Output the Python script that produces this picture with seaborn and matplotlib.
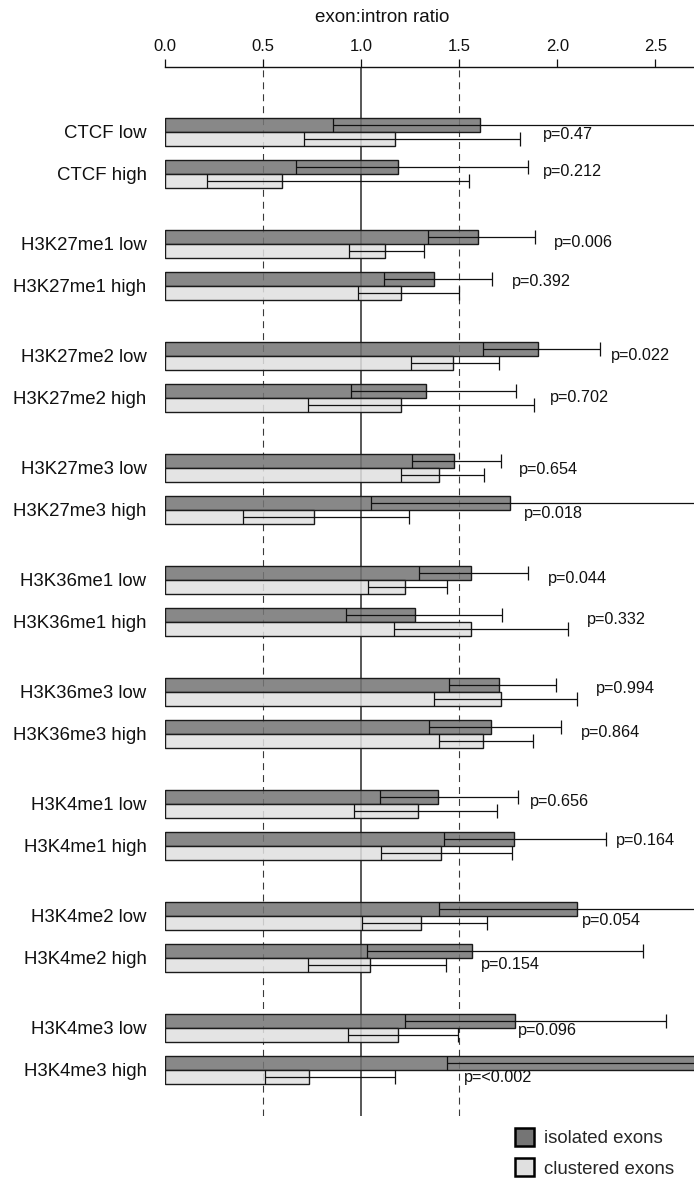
import matplotlib
matplotlib.use("Agg")
import matplotlib.pyplot as plt
from matplotlib.colors import to_rgba
from matplotlib.patches import Patch
from matplotlib.transforms import offset_copy
import numpy as np
import pandas as pd
import seaborn as sns

# ---- data -------------------------------------------------------------
marks = ["CTCF", "H3K27me1", "H3K27me2", "H3K27me3", "H3K36me1",
         "H3K36me3", "H3K4me1", "H3K4me2", "H3K4me3"]
levels = ["low", "high"]
row_labels = [f"{m} {lv}" for m in marks for lv in levels]

iso_ratio = [1.607, 1.190, 1.596, 1.371, 1.903, 1.330, 1.472, 1.761, 1.562,
             1.278, 1.704, 1.664, 1.395, 1.779, 2.099, 1.567, 1.785, 2.85]
iso_lower = [0.859, 0.667, 1.344, 1.120, 1.623, 0.949, 1.258, 1.053, 1.298,
             0.922, 1.447, 1.346, 1.096, 1.422, 1.400, 1.032, 1.224, 1.438]
iso_upper = [2.95, 1.849, 1.889, 1.670, 2.220, 1.788, 1.713, 2.90, 1.851,
             1.720, 1.995, 2.020, 1.799, 2.250, 2.90, 2.439, 2.556, 3.60]

clu_ratio = [1.174, 0.597, 1.123, 1.206, 1.468, 1.202, 1.400, 0.760, 1.226,
             1.562, 1.716, 1.623, 1.292, 1.407, 1.307, 1.048, 1.188, 0.737]
clu_lower = [0.708, 0.214, 0.938, 0.983, 1.253, 0.728, 1.202, 0.399, 1.035,
             1.170, 1.371, 1.398, 0.967, 1.100, 1.008, 0.728, 0.933, 0.509]
clu_upper = [1.812, 1.551, 1.321, 1.501, 1.702, 1.880, 1.628, 1.244, 1.438,
             2.054, 2.101, 1.876, 1.691, 1.772, 1.643, 1.436, 1.497, 1.174]

p_values = ["p=0.47", "p=0.212", "p=0.006", "p=0.392", "p=0.022", "p=0.702",
            "p=0.654", "p=0.018", "p=0.044", "p=0.332", "p=0.994", "p=0.864",
            "p=0.656", "p=0.164", "p=0.054", "p=0.154", "p=0.096", "p=<0.002"]

series = ["isolated exons", "clustered exons"]

# ---- layout of the annotations -----------------------------------------
p_x = [1.928, 1.928, 1.984, 1.770, 2.274, 1.963, 1.805, 1.831, 1.953,
       2.152, 2.198, 2.121, 1.861, 2.300, 2.126, 1.612, 1.800, 1.525]
p_dy = [2, -2.5, -1.5, -4.5, -0.5, -0.5, 1.5, 3.5, -1.5,
        -2.5, -3.5, -1.5, -2.5, -5.5, 4.5, 6.5, 2.5, 7.5]

dark = "#757575"
light = "#e0e0e0"
fill_alpha = 0.86

sns.set_style("white")
plt.rcParams["font.family"] = ["Liberation Sans", "DejaVu Sans"]
plt.rcParams["lines.scale_dashes"] = False

# rows of a pair sit one unit apart, marks are separated by a wider gap
group_step = 112 / 42
pos = [g * group_step + w for g in range(len(marks)) for w in range(len(levels))]

df = pd.DataFrame({
    "pos": pos + pos,
    "ratio": iso_ratio + clu_ratio,
    "exons": [series[0]] * len(pos) + [series[1]] * len(pos),
})

fig = plt.figure(figsize=(6.94, 11.80), dpi=100)
ax = fig.add_axes([164.6 / 694, 1 - 1116 / 1180, 1 - 164.6 / 694, (1116 - 67) / 1180])

# reference lines
ax.axvline(1.0, color="#2a2a2a", lw=1.1, zorder=0)
for xv in (0.5, 1.5):
    ax.axvline(xv, color="#3a3a3a", lw=0.8, dashes=(5, 3.6), zorder=0)

sns.barplot(data=df, x="ratio", y="pos", hue="exons", orient="y",
            native_scale=True, width=0.69, palette=[dark, light],
            edgecolor="#1a1a1a", linewidth=1.0, errorbar=None,
            legend=False, ax=ax, zorder=2)

for cont, col in zip(ax.containers, [dark, light]):
    for bar in cont:
        bar.set_facecolor(to_rgba(col, fill_alpha))

# confidence intervals: line from lower to upper bound, ticks at both ends
for cont, lo, hi in zip(ax.containers, [iso_lower, clu_lower], [iso_upper, clu_upper]):
    for bar, l, h in zip(cont, lo, hi):
        y0 = bar.get_y()
        y1 = y0 + bar.get_height()
        yc = (y0 + y1) / 2
        ax.hlines(yc, l, h, color="#111111", lw=0.9, zorder=3)
        ax.vlines([l, h], y0, y1, color="#111111", lw=0.9, zorder=3)

# p-values
for x, y, txt, dy in zip(p_x, pos, p_values, p_dy):
    tr = offset_copy(ax.transData, fig=fig, y=-dy, units="dots")
    ax.text(x, y, txt, transform=tr, ha="left", va="center", fontsize=11.7,
            color="#111111")

ax.set_xlim(0, (694 - 164.6) / 196.3)
ax.set_ylim((1116 - 132) / 42, (67 - 132) / 42)

ticks = [0.0, 0.5, 1.0, 1.5, 2.0, 2.5]
ax.xaxis.tick_top()
ax.set_xticks(ticks, [f"{t:.1f}" for t in ticks])
ax.tick_params(axis="x", top=True, bottom=False, direction="out", length=5.5,
               width=0.9, pad=4.0, labelsize=12, colors="#111111")
ax.set_yticks(pos, row_labels)
ax.tick_params(axis="y", left=False, length=0, pad=13, labelsize=13.4,
               labelcolor="#111111")
ax.set_xlabel("")
ax.set_ylabel("")
for side in ("left", "right", "bottom"):
    ax.spines[side].set_visible(False)
ax.spines["top"].set_color("#111111")
ax.spines["top"].set_linewidth(1.0)

fig.text(382 / 694, 1 - 18 / 1180, "exon:intron ratio", ha="center",
         va="center", fontsize=13.5, color="#111111")

handles = [Patch(facecolor=dark, edgecolor="black", linewidth=1.8),
           Patch(facecolor=light, edgecolor="black", linewidth=1.8)]
fig.legend(handles, series, loc="upper left",
           bbox_to_anchor=(515 / 694, 1 - 1128 / 1180), frameon=False,
           fontsize=13.4, handlelength=1.02, handleheight=1.1,
           handletextpad=0.55, labelspacing=0.6, borderpad=0,
           borderaxespad=0)

fig.savefig("out.png", dpi=100, facecolor="white")
